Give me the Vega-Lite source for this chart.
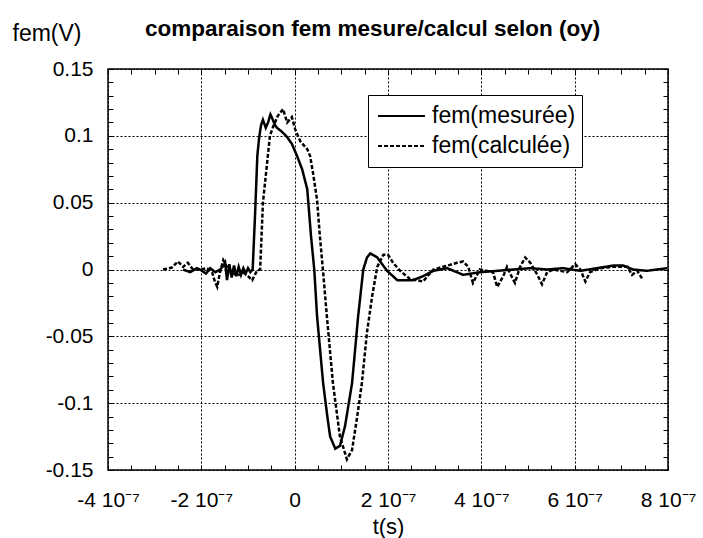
{
  "$schema": "https://vega.github.io/schema/vega-lite/v6.json",
  "width": 560,
  "height": 401,
  "autosize": "none",
  "padding": {"left": 108, "top": 69, "right": 35, "bottom": 68},
  "background": "white",
  "config": {
    "font": "Liberation Sans",
    "view": {"stroke": "black", "strokeWidth": 1.5}
  },
  "title": {
    "text": "comparaison fem mesure/calcul selon (oy)",
    "fontSize": 22.5,
    "fontWeight": "bold",
    "anchor": "start",
    "frame": "group",
    "dx": 37,
    "dy": 22,
    "color": "black",
    "font": "Liberation Sans"
  },
  "data": {
    "values": [
      {"t": -2.39e-7, "v": 0.000, "s": "fem(mesurée)"},
      {"t": -2.24e-7, "v": -0.002, "s": "fem(mesurée)"},
      {"t": -2.10e-7, "v": 0.001, "s": "fem(mesurée)"},
      {"t": -2.03e-7, "v": 0.000, "s": "fem(mesurée)"},
      {"t": -1.90e-7, "v": -0.003, "s": "fem(mesurée)"},
      {"t": -1.81e-7, "v": 0.001, "s": "fem(mesurée)"},
      {"t": -1.70e-7, "v": -0.002, "s": "fem(mesurée)"},
      {"t": -1.60e-7, "v": 0.000, "s": "fem(mesurée)"},
      {"t": -1.52e-7, "v": 0.003, "s": "fem(mesurée)"},
      {"t": -1.49e-7, "v": 0.005, "s": "fem(mesurée)"},
      {"t": -1.45e-7, "v": -0.008, "s": "fem(mesurée)"},
      {"t": -1.40e-7, "v": 0.004, "s": "fem(mesurée)"},
      {"t": -1.35e-7, "v": -0.006, "s": "fem(mesurée)"},
      {"t": -1.30e-7, "v": 0.003, "s": "fem(mesurée)"},
      {"t": -1.25e-7, "v": -0.005, "s": "fem(mesurée)"},
      {"t": -1.20e-7, "v": 0.002, "s": "fem(mesurée)"},
      {"t": -1.15e-7, "v": -0.004, "s": "fem(mesurée)"},
      {"t": -1.10e-7, "v": 0.001, "s": "fem(mesurée)"},
      {"t": -1.05e-7, "v": -0.003, "s": "fem(mesurée)"},
      {"t": -1.00e-7, "v": 0.001, "s": "fem(mesurée)"},
      {"t": -0.95e-7, "v": -0.002, "s": "fem(mesurée)"},
      {"t": -0.90e-7, "v": 0.000, "s": "fem(mesurée)"},
      {"t": -0.85e-7, "v": 0.040, "s": "fem(mesurée)"},
      {"t": -0.80e-7, "v": 0.085, "s": "fem(mesurée)"},
      {"t": -0.76e-7, "v": 0.099, "s": "fem(mesurée)"},
      {"t": -0.72e-7, "v": 0.108, "s": "fem(mesurée)"},
      {"t": -0.68e-7, "v": 0.112, "s": "fem(mesurée)"},
      {"t": -0.62e-7, "v": 0.106, "s": "fem(mesurée)"},
      {"t": -0.57e-7, "v": 0.110, "s": "fem(mesurée)"},
      {"t": -0.52e-7, "v": 0.116, "s": "fem(mesurée)"},
      {"t": -0.48e-7, "v": 0.113, "s": "fem(mesurée)"},
      {"t": -0.42e-7, "v": 0.108, "s": "fem(mesurée)"},
      {"t": -0.38e-7, "v": 0.106, "s": "fem(mesurée)"},
      {"t": -0.27e-7, "v": 0.103, "s": "fem(mesurée)"},
      {"t": -0.16e-7, "v": 0.099, "s": "fem(mesurée)"},
      {"t": -0.06e-7, "v": 0.094, "s": "fem(mesurée)"},
      {"t": 0.05e-7, "v": 0.085, "s": "fem(mesurée)"},
      {"t": 0.16e-7, "v": 0.075, "s": "fem(mesurée)"},
      {"t": 0.27e-7, "v": 0.060, "s": "fem(mesurée)"},
      {"t": 0.35e-7, "v": 0.025, "s": "fem(mesurée)"},
      {"t": 0.42e-7, "v": 0.000, "s": "fem(mesurée)"},
      {"t": 0.48e-7, "v": -0.035, "s": "fem(mesurée)"},
      {"t": 0.61e-7, "v": -0.085, "s": "fem(mesurée)"},
      {"t": 0.70e-7, "v": -0.110, "s": "fem(mesurée)"},
      {"t": 0.76e-7, "v": -0.125, "s": "fem(mesurée)"},
      {"t": 0.87e-7, "v": -0.134, "s": "fem(mesurée)"},
      {"t": 0.97e-7, "v": -0.132, "s": "fem(mesurée)"},
      {"t": 1.08e-7, "v": -0.117, "s": "fem(mesurée)"},
      {"t": 1.23e-7, "v": -0.085, "s": "fem(mesurée)"},
      {"t": 1.36e-7, "v": -0.035, "s": "fem(mesurée)"},
      {"t": 1.47e-7, "v": 0.000, "s": "fem(mesurée)"},
      {"t": 1.55e-7, "v": 0.009, "s": "fem(mesurée)"},
      {"t": 1.62e-7, "v": 0.012, "s": "fem(mesurée)"},
      {"t": 1.77e-7, "v": 0.009, "s": "fem(mesurée)"},
      {"t": 1.98e-7, "v": -0.001, "s": "fem(mesurée)"},
      {"t": 2.20e-7, "v": -0.008, "s": "fem(mesurée)"},
      {"t": 2.54e-7, "v": -0.008, "s": "fem(mesurée)"},
      {"t": 2.75e-7, "v": -0.005, "s": "fem(mesurée)"},
      {"t": 2.97e-7, "v": -0.001, "s": "fem(mesurée)"},
      {"t": 3.27e-7, "v": 0.001, "s": "fem(mesurée)"},
      {"t": 3.61e-7, "v": -0.004, "s": "fem(mesurée)"},
      {"t": 3.97e-7, "v": -0.002, "s": "fem(mesurée)"},
      {"t": 4.34e-7, "v": -0.001, "s": "fem(mesurée)"},
      {"t": 4.68e-7, "v": 0.000, "s": "fem(mesurée)"},
      {"t": 5.05e-7, "v": 0.001, "s": "fem(mesurée)"},
      {"t": 5.41e-7, "v": 0.000, "s": "fem(mesurée)"},
      {"t": 5.75e-7, "v": 0.001, "s": "fem(mesurée)"},
      {"t": 6.12e-7, "v": -0.001, "s": "fem(mesurée)"},
      {"t": 6.48e-7, "v": 0.001, "s": "fem(mesurée)"},
      {"t": 6.83e-7, "v": 0.003, "s": "fem(mesurée)"},
      {"t": 7.04e-7, "v": 0.003, "s": "fem(mesurée)"},
      {"t": 7.25e-7, "v": 0.000, "s": "fem(mesurée)"},
      {"t": 7.55e-7, "v": -0.001, "s": "fem(mesurée)"},
      {"t": 7.98e-7, "v": 0.001, "s": "fem(mesurée)"},
      {"t": -2.82e-7, "v": 0.000, "s": "fem(calculée)"},
      {"t": -2.63e-7, "v": 0.0015, "s": "fem(calculée)"},
      {"t": -2.50e-7, "v": 0.006, "s": "fem(calculée)"},
      {"t": -2.39e-7, "v": 0.002, "s": "fem(calculée)"},
      {"t": -2.29e-7, "v": 0.005, "s": "fem(calculée)"},
      {"t": -2.18e-7, "v": 0.000, "s": "fem(calculée)"},
      {"t": -2.03e-7, "v": 0.000, "s": "fem(calculée)"},
      {"t": -1.88e-7, "v": 0.001, "s": "fem(calculée)"},
      {"t": -1.77e-7, "v": -0.002, "s": "fem(calculée)"},
      {"t": -1.71e-7, "v": -0.009, "s": "fem(calculée)"},
      {"t": -1.66e-7, "v": -0.013, "s": "fem(calculée)"},
      {"t": -1.60e-7, "v": -0.002, "s": "fem(calculée)"},
      {"t": -1.53e-7, "v": 0.007, "s": "fem(calculée)"},
      {"t": -1.45e-7, "v": 0.002, "s": "fem(calculée)"},
      {"t": -1.34e-7, "v": -0.002, "s": "fem(calculée)"},
      {"t": -1.23e-7, "v": -0.005, "s": "fem(calculée)"},
      {"t": -1.11e-7, "v": -0.002, "s": "fem(calculée)"},
      {"t": -1.00e-7, "v": -0.005, "s": "fem(calculée)"},
      {"t": -0.91e-7, "v": -0.008, "s": "fem(calculée)"},
      {"t": -0.81e-7, "v": -0.001, "s": "fem(calculée)"},
      {"t": -0.74e-7, "v": 0.000, "s": "fem(calculée)"},
      {"t": -0.68e-7, "v": 0.050, "s": "fem(calculée)"},
      {"t": -0.59e-7, "v": 0.080, "s": "fem(calculée)"},
      {"t": -0.53e-7, "v": 0.100, "s": "fem(calculée)"},
      {"t": -0.46e-7, "v": 0.107, "s": "fem(calculée)"},
      {"t": -0.36e-7, "v": 0.115, "s": "fem(calculée)"},
      {"t": -0.25e-7, "v": 0.120, "s": "fem(calculée)"},
      {"t": -0.16e-7, "v": 0.110, "s": "fem(calculée)"},
      {"t": -0.06e-7, "v": 0.114, "s": "fem(calculée)"},
      {"t": 0.01e-7, "v": 0.105, "s": "fem(calculée)"},
      {"t": 0.12e-7, "v": 0.096, "s": "fem(calculée)"},
      {"t": 0.27e-7, "v": 0.090, "s": "fem(calculée)"},
      {"t": 0.33e-7, "v": 0.085, "s": "fem(calculée)"},
      {"t": 0.39e-7, "v": 0.073, "s": "fem(calculée)"},
      {"t": 0.48e-7, "v": 0.052, "s": "fem(calculée)"},
      {"t": 0.54e-7, "v": 0.025, "s": "fem(calculée)"},
      {"t": 0.61e-7, "v": -0.002, "s": "fem(calculée)"},
      {"t": 0.69e-7, "v": -0.035, "s": "fem(calculée)"},
      {"t": 0.82e-7, "v": -0.085, "s": "fem(calculée)"},
      {"t": 0.97e-7, "v": -0.125, "s": "fem(calculée)"},
      {"t": 1.12e-7, "v": -0.142, "s": "fem(calculée)"},
      {"t": 1.23e-7, "v": -0.135, "s": "fem(calculée)"},
      {"t": 1.34e-7, "v": -0.110, "s": "fem(calculée)"},
      {"t": 1.44e-7, "v": -0.085, "s": "fem(calculée)"},
      {"t": 1.55e-7, "v": -0.047, "s": "fem(calculée)"},
      {"t": 1.66e-7, "v": -0.020, "s": "fem(calculée)"},
      {"t": 1.77e-7, "v": 0.002, "s": "fem(calculée)"},
      {"t": 1.90e-7, "v": 0.011, "s": "fem(calculée)"},
      {"t": 2.00e-7, "v": 0.011, "s": "fem(calculée)"},
      {"t": 2.11e-7, "v": 0.005, "s": "fem(calculée)"},
      {"t": 2.26e-7, "v": -0.001, "s": "fem(calculée)"},
      {"t": 2.47e-7, "v": -0.007, "s": "fem(calculée)"},
      {"t": 2.75e-7, "v": -0.009, "s": "fem(calculée)"},
      {"t": 2.97e-7, "v": 0.000, "s": "fem(calculée)"},
      {"t": 3.18e-7, "v": 0.002, "s": "fem(calculée)"},
      {"t": 3.48e-7, "v": 0.005, "s": "fem(calculée)"},
      {"t": 3.61e-7, "v": 0.006, "s": "fem(calculée)"},
      {"t": 3.72e-7, "v": 0.002, "s": "fem(calculée)"},
      {"t": 3.82e-7, "v": -0.010, "s": "fem(calculée)"},
      {"t": 3.97e-7, "v": 0.000, "s": "fem(calculée)"},
      {"t": 4.25e-7, "v": -0.002, "s": "fem(calculée)"},
      {"t": 4.34e-7, "v": -0.013, "s": "fem(calculée)"},
      {"t": 4.47e-7, "v": -0.005, "s": "fem(calculée)"},
      {"t": 4.55e-7, "v": 0.002, "s": "fem(calculée)"},
      {"t": 4.66e-7, "v": -0.006, "s": "fem(calculée)"},
      {"t": 4.72e-7, "v": -0.010, "s": "fem(calculée)"},
      {"t": 4.83e-7, "v": 0.002, "s": "fem(calculée)"},
      {"t": 4.94e-7, "v": 0.009, "s": "fem(calculée)"},
      {"t": 5.05e-7, "v": 0.005, "s": "fem(calculée)"},
      {"t": 5.20e-7, "v": -0.004, "s": "fem(calculée)"},
      {"t": 5.30e-7, "v": -0.011, "s": "fem(calculée)"},
      {"t": 5.41e-7, "v": -0.002, "s": "fem(calculée)"},
      {"t": 5.54e-7, "v": 0.000, "s": "fem(calculée)"},
      {"t": 5.84e-7, "v": -0.002, "s": "fem(calculée)"},
      {"t": 6.01e-7, "v": 0.004, "s": "fem(calculée)"},
      {"t": 6.12e-7, "v": 0.000, "s": "fem(calculée)"},
      {"t": 6.23e-7, "v": -0.009, "s": "fem(calculée)"},
      {"t": 6.33e-7, "v": -0.002, "s": "fem(calculée)"},
      {"t": 6.55e-7, "v": 0.001, "s": "fem(calculée)"},
      {"t": 6.83e-7, "v": 0.002, "s": "fem(calculée)"},
      {"t": 7.13e-7, "v": 0.002, "s": "fem(calculée)"},
      {"t": 7.23e-7, "v": -0.004, "s": "fem(calculée)"},
      {"t": 7.34e-7, "v": -0.001, "s": "fem(calculée)"},
      {"t": 7.45e-7, "v": -0.007, "s": "fem(calculée)"}
    ]
  },
  "layer": [
    {
      "mark": {"type": "line", "color": "black", "strokeWidth": 2.5},
      "encoding": {
        "x": {
          "field": "t",
          "type": "quantitative",
          "scale": {"domain": [-4e-7, 8e-7], "nice": false, "zero": false},
          "axis": {
            "orient": "bottom",
            "values": [-4e-7, -3.5e-7, -3e-7, -2.5e-7, -2e-7, -1.5e-7, -1e-7, -5e-8, 0, 5e-8, 1e-7, 1.5e-7, 2e-7, 2.5e-7, 3e-7, 3.5e-7, 4e-7, 4.5e-7, 5e-7, 5.5e-7, 6e-7, 6.5e-7, 7e-7, 7.5e-7, 8e-7],
            "labelExpr": "abs(datum.value*5e6 - round(datum.value*5e6)) < 0.01 ? (round(datum.value*1e7) == 0 ? '0' : round(datum.value*1e7) + ' 10⁻⁷') : ''",
            "labelFontSize": 21,
            "labelColor": "black",
            "labelPadding": 24,
            "labelFlush": false,
            "labelOverlap": false,
            "labelBound": false,
            "domain": false,
            "ticks": true,
            "tickSize": -5,
            "tickColor": "black",
            "tickWidth": 1,
            "grid": true,
            "gridColor": "black",
            "gridDash": [2, 2],
            "gridWidth": 1,
            "gridOpacity": {"condition": {"test": "abs(datum.value*5e6 - round(datum.value*5e6)) < 0.01", "value": 1}, "value": 0},
            "title": "t(s)",
            "titleFontSize": 22,
            "titleFontWeight": "normal",
            "titleColor": "black",
            "titleY": 63,
            "titleBaseline": "alphabetic"
          }
        },
        "y": {
          "field": "v",
          "type": "quantitative",
          "scale": {"domain": [-0.15, 0.15], "nice": false, "zero": false},
          "axis": {
            "orient": "left",
            "values": [-0.15, -0.14, -0.13, -0.12, -0.11, -0.1, -0.09, -0.08, -0.07, -0.06, -0.05, -0.04, -0.03, -0.02, -0.01, 0, 0.01, 0.02, 0.03, 0.04, 0.05, 0.06, 0.07, 0.08, 0.09, 0.1, 0.11, 0.12, 0.13, 0.14, 0.15],
            "labelExpr": "abs(datum.value*20 - round(datum.value*20)) < 0.01 ? '' + round(datum.value*100)/100 : ''",
            "labelFontSize": 21,
            "labelColor": "black",
            "labelPadding": 20,
            "labelOverlap": false,
            "labelBound": false,
            "labelFlush": false,
            "domain": false,
            "ticks": true,
            "tickSize": -5,
            "tickColor": "black",
            "tickWidth": 1,
            "grid": true,
            "gridColor": "black",
            "gridDash": [2, 2],
            "gridWidth": 1,
            "gridOpacity": {"condition": {"test": "abs(datum.value*20 - round(datum.value*20)) < 0.01", "value": 1}, "value": 0},
            "title": "fem(V)",
            "titleAngle": 0,
            "titleX": -96,
            "titleY": -29,
            "titleAlign": "left",
            "titleBaseline": "alphabetic",
            "titleFontSize": 23,
            "titleFontWeight": "normal",
            "titleColor": "black"
          }
        },
        "strokeDash": {
          "field": "s",
          "type": "nominal",
          "scale": {"domain": ["fem(mesurée)", "fem(calculée)"], "range": [[1, 0], [4, 2]]},
          "legend": {
            "orient": "none",
            "legendX": 260,
            "legendY": 26,
            "title": null,
            "strokeColor": "black",
            "fillColor": "white",
            "padding": 6,
            "labelFontSize": 23,
            "labelColor": "black",
            "symbolType": "stroke",
            "symbolSize": 2200,
            "symbolStrokeWidth": 2,
            "symbolStrokeColor": "black",
            "symbolOffset": 3,
            "labelOffset": 6,
            "clipHeight": 30,
            "rowPadding": 0
          }
        }
      }
    },
    {
      "mark": {"type": "point", "opacity": 0},
      "encoding": {
        "x": {
          "field": "t",
          "type": "quantitative",
          "axis": {
            "orient": "top",
            "values": [-4e-7, -3.5e-7, -3e-7, -2.5e-7, -2e-7, -1.5e-7, -1e-7, -5e-8, 0, 5e-8, 1e-7, 1.5e-7, 2e-7, 2.5e-7, 3e-7, 3.5e-7, 4e-7, 4.5e-7, 5e-7, 5.5e-7, 6e-7, 6.5e-7, 7e-7, 7.5e-7, 8e-7],
            "labels": false,
            "domain": false,
            "grid": false,
            "ticks": true,
            "tickSize": -5,
            "tickColor": "black",
            "tickWidth": 1,
            "title": null
          }
        },
        "y": {
          "field": "v",
          "type": "quantitative",
          "axis": {
            "orient": "right",
            "values": [-0.15, -0.14, -0.13, -0.12, -0.11, -0.1, -0.09, -0.08, -0.07, -0.06, -0.05, -0.04, -0.03, -0.02, -0.01, 0, 0.01, 0.02, 0.03, 0.04, 0.05, 0.06, 0.07, 0.08, 0.09, 0.1, 0.11, 0.12, 0.13, 0.14, 0.15],
            "labels": false,
            "domain": false,
            "grid": false,
            "ticks": true,
            "tickSize": -5,
            "tickColor": "black",
            "tickWidth": 1,
            "title": null
          }
        }
      }
    }
  ],
  "resolve": {"axis": {"x": "independent", "y": "independent"}}
}
